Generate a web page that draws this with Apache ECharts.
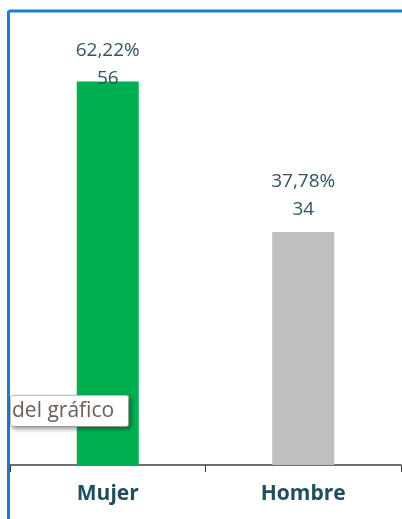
<!DOCTYPE html>
<html>
<head>
    <meta charset="utf-8">
    <title>Mujer / Hombre</title>
    <style>
    html, body { margin: 0; padding: 0; background: #fff; }
    #main { width: 402px; height: 519px; }
    </style>
    <script type="text/javascript" src="https://cdn.jsdelivr.net/npm/echarts@6/dist/echarts.min.js"></script>
</head>
<body>
    <div id="main"></div>
    <script>
    var categories = ['Mujer', 'Hombre'];
    var values = [56, 34];
    var percents = ['62,22%', '37,78%'];
    var colors = ['#00b050', '#bfbfbf'];
    var labelShift = [20, 0]; // el rótulo de Mujer queda pegado al borde superior

    var seriesData = values.map(function (v, i) {
        return {
            value: v,
            itemStyle: { color: colors[i] },
            label: { offset: [0, labelShift[i]] }
        };
    });

    var option = {
        animation: false,
        grid: { left: 10, right: 1, top: 54, bottom: 54 },
        xAxis: {
            type: 'category',
            data: categories,
            axisLine: { lineStyle: { color: '#404040', width: 1.5 } },
            axisTick: { show: true, length: 7, lineStyle: { color: '#404040' } },
            axisLabel: {
                color: '#1f4e5f',
                fontFamily: 'Open Sans',
                fontWeight: 'bold',
                fontSize: 21,
                margin: 19
            }
        },
        yAxis: { type: 'value', min: 0, max: 60, show: false },
        series: [{
            type: 'bar',
            barWidth: 62,
            data: seriesData,
            label: {
                show: true,
                position: 'top',
                distance: 9,
                color: '#2f5564',
                fontFamily: 'Open Sans',
                fontSize: 19,
                lineHeight: 28,
                formatter: function (p) {
                    return percents[p.dataIndex] + '\n' + p.value;
                }
            }
        }],
        graphic: [
            { type: 'line', shape: { x1: 8.5, y1: 11, x2: 402, y2: 11 }, style: { stroke: '#1a7bd0', lineWidth: 3 } },
            { type: 'line', shape: { x1: 8.5, y1: 11, x2: 8.5, y2: 519 }, style: { stroke: '#1a7bd0', lineWidth: 3 } },
            {
                type: 'text', left: 10, top: 395, z: 100,
                style: {
                    text: 'del gráfico',
                    fontFamily: 'Open Sans',
                    fontSize: 21,
                    fill: '#6b6058',
                    backgroundColor: '#ffffff',
                    borderColor: '#c8c8c8',
                    borderWidth: 1,
                    borderRadius: 2,
                    padding: [5, 14, 4, 1],
                    shadowColor: 'rgba(0,0,0,0.35)',
                    shadowBlur: 4,
                    shadowOffsetX: 2,
                    shadowOffsetY: 2
                }
            }
        ]
    };

    var myChart = echarts.init(document.getElementById('main'));
    myChart.setOption(option);
    </script>
</body>
</html>
